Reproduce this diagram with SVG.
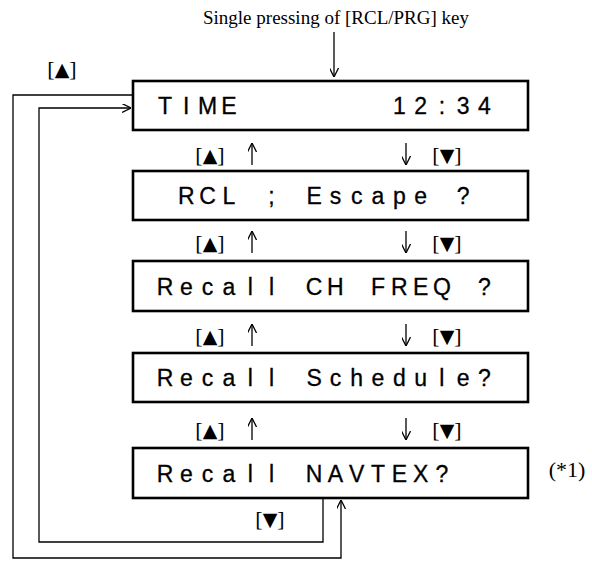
<svg xmlns="http://www.w3.org/2000/svg" width="592" height="561" viewBox="0 0 592 561">
<style>
.box{fill:#fff;stroke:#000;stroke-width:2.6}
.bt{font-family:"Liberation Sans","DejaVu Sans",sans-serif;font-size:23px;text-anchor:middle;fill:#000;stroke:#000;stroke-width:0.3}
.lbl{font-family:"Liberation Serif","DejaVu Serif",serif;font-size:22px;fill:#000;text-anchor:middle}
.tri{font-family:"DejaVu Sans",sans-serif;font-size:19px}
.ttl{font-family:"Liberation Serif","DejaVu Serif",serif;font-size:19px;text-anchor:middle;fill:#000}
.ln{fill:none;stroke:#000;stroke-width:1.3}
</style>
<defs>
<marker id="ah" viewBox="0 0 10 10" refX="10" refY="5" markerWidth="9" markerHeight="9" markerUnits="userSpaceOnUse" orient="auto">
<path d="M0,0 L10,5 L0,10" fill="none" stroke="#000" stroke-width="1.4"/>
</marker>
</defs>
<text class="ttl" x="336" y="24">Single pressing of [RCL/PRG] key</text>
<g id="n1">
<rect class="box" x="133" y="81" width="395" height="49"/>
<text class="bt" y="114" x="165 186.3 207.6 228.9 399.3 420.6 441.9 463.2 484.5">TIME12:34</text>
</g>
<g id="n2">
<rect class="box" x="133" y="171" width="395" height="49"/>
<text class="bt" y="204" x="186.3 207.6 228.9 271.5 314.1 335.4 356.7 378 399.3 420.6 463.2">RCL;Escape?</text>
</g>
<g id="n3">
<rect class="box" x="133" y="261" width="395" height="50"/>
<text class="bt" y="294.5" x="165 186.3 207.6 228.9 250.2 271.5 314.1 335.4 378 399.3 420.6 441.9 484.5">RecallCHFREQ?</text>
</g>
<g id="n4">
<rect class="box" x="133" y="353" width="395" height="49"/>
<text class="bt" y="386" x="165 186.3 207.6 228.9 250.2 271.5 314.1 335.4 356.7 378 399.3 420.6 441.9 463.2 484.5">RecallSchedule?</text>
</g>
<g id="n5">
<rect class="box" x="133" y="448" width="395" height="50"/>
<text class="bt" y="481.5" x="165 186.3 207.6 228.9 250.2 271.5 314.1 335.4 356.7 378 399.3 420.6 441.9">RecallNAVTEX?</text>
</g>
<g id="connectors">
<line class="ln" x1="334" y1="32" x2="334" y2="77" marker-end="url(#ah)"/>
<line class="ln" x1="252" y1="165" x2="252" y2="143" marker-end="url(#ah)"/>
<line class="ln" x1="406" y1="143" x2="406" y2="165" marker-end="url(#ah)"/>
<line class="ln" x1="252" y1="253" x2="252" y2="231" marker-end="url(#ah)"/>
<line class="ln" x1="406" y1="231" x2="406" y2="253" marker-end="url(#ah)"/>
<line class="ln" x1="252" y1="346" x2="252" y2="324" marker-end="url(#ah)"/>
<line class="ln" x1="406" y1="324" x2="406" y2="346" marker-end="url(#ah)"/>
<line class="ln" x1="252" y1="440" x2="252" y2="418" marker-end="url(#ah)"/>
<line class="ln" x1="406" y1="418" x2="406" y2="440" marker-end="url(#ah)"/>
<polyline class="ln" points="133,95 13,95 13,558 341,558 341,500" marker-end="url(#ah)"/>
<polyline class="ln" points="323,498 323,542 39,542 39,108 131,108" marker-end="url(#ah)"/>
</g>
<g id="labels">
<text class="lbl" x="62" y="76">[<tspan class="tri">▲</tspan>]</text>
<text class="lbl" x="210" y="162">[<tspan class="tri">▲</tspan>]</text>
<text class="lbl" x="447" y="162">[<tspan class="tri">▼</tspan>]</text>
<text class="lbl" x="210" y="250">[<tspan class="tri">▲</tspan>]</text>
<text class="lbl" x="447" y="250">[<tspan class="tri">▼</tspan>]</text>
<text class="lbl" x="210" y="343">[<tspan class="tri">▲</tspan>]</text>
<text class="lbl" x="447" y="343">[<tspan class="tri">▼</tspan>]</text>
<text class="lbl" x="210" y="437">[<tspan class="tri">▲</tspan>]</text>
<text class="lbl" x="447" y="437">[<tspan class="tri">▼</tspan>]</text>
<text class="lbl" x="270" y="526">[<tspan class="tri">▼</tspan>]</text>
<text class="lbl" x="567" y="477" font-size="18">(*1)</text>
</g>
</svg>
